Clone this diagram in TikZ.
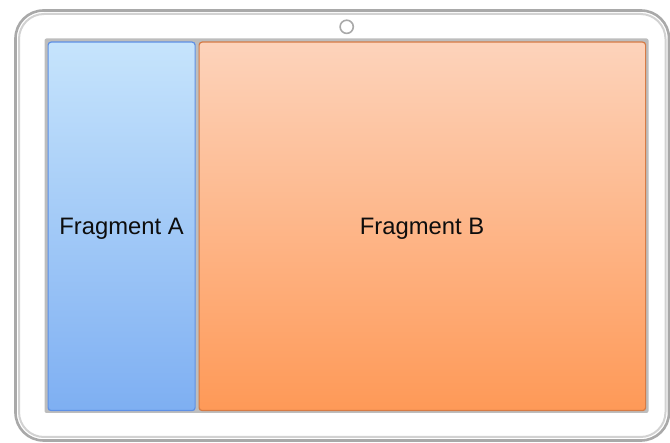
\documentclass[tikz,border=0pt]{standalone}
\usepackage{fontspec}
\setmainfont{Liberation Sans}
\definecolor{tabOut}{HTML}{A9A9A9}
\definecolor{tabIn}{HTML}{D2D2D2}
\definecolor{screenGray}{HTML}{BDBDBD}
\definecolor{aTop}{HTML}{C6E4FC}
\definecolor{aBot}{HTML}{7EAFF2}
\definecolor{aLine}{HTML}{5E90E6}
\definecolor{bTop}{HTML}{FDD3BB}
\definecolor{bBot}{HTML}{FE9957}
\definecolor{bLine}{HTML}{D67B45}
\begin{document}
\begin{tikzpicture}[x=1pt,y=-1pt,
  frag/.style={rounded corners=3pt, line width=1.2pt},
  lbl/.style={font=\fontsize{23.8}{26}\selectfont, text=black!95, inner sep=0pt, anchor=base}]
\useasboundingbox (0,0) rectangle (670,443);
% tablet body
\draw[tabOut, line width=2.6pt, rounded corners=28pt] (15.5,10.5) rectangle (669,440.5);
\draw[tabIn, line width=2pt, rounded corners=25pt] (19,14) rectangle (665.5,437);
% camera
\draw[tabOut, line width=1.6pt] (346.7,26.8) circle (6.6);
% screen frame
\fill[screenGray, rounded corners=2pt] (44.5,38.5) rectangle (648.5,413);
% fragments
\node[frag, draw=aLine, top color=aTop, bottom color=aBot, minimum width=147pt, minimum height=368.5pt, anchor=north west] (fa) at (47.5,41.5) {};
\node[frag, draw=bLine, top color=bTop, bottom color=bBot, minimum width=446.5pt, minimum height=368.5pt, anchor=north west] (fb) at (198.5,41.5) {};
\node[lbl] (ta) at (121.5,234.3) {Fragment A};
\node[lbl] (tb) at (422,234.3) {Fragment B};
\end{tikzpicture}
\end{document}
